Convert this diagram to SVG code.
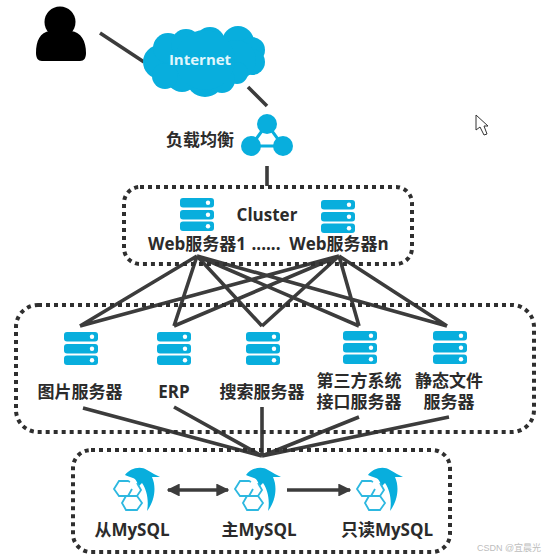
<svg xmlns="http://www.w3.org/2000/svg" xmlns:xlink="http://www.w3.org/1999/xlink" width="546" height="559" viewBox="0 0 546 559">
<style>
text{font-family:"Open Sans","Noto Sans CJK SC","Noto Sans",sans-serif;font-weight:700;font-size:17px;fill:#2b2b2b;text-anchor:middle}
.box{fill:none;stroke:#2f2f2f;stroke-width:4;stroke-dasharray:4 4}
.ln{fill:none;stroke:#3c3c3c;stroke-width:3.6}
.blue{fill:#08aedd}
</style>
<defs>
<g id="srv">
<rect class="blue" x="0" y="0" width="34" height="9.5" rx="3"/><circle cx="28" cy="4.8" r="2.2" fill="#fff"/>
<rect class="blue" x="0" y="12" width="34" height="9.5" rx="3"/><circle cx="28" cy="16.8" r="2.2" fill="#fff"/>
<rect class="blue" x="0" y="23.5" width="34" height="9.5" rx="3"/><circle cx="28" cy="28.3" r="2.2" fill="#fff"/>
</g>
<g id="dol">
<path class="blue" d="M11 7C15 1 26 -3 33 2C38 5 42 7 46 9L38 9C43 20 40 34 33 43C35 33 33 22 28 15L24 19C24 15 22 11 19 10C16 9 13 8 11 7Z"/>
<path d="M16 14L14 13H5L0 21L5 28H14L18 21M8 35L12 28H23L28 35L23 42H12L8 35ZM23 15L27 22L23 28" fill="none" stroke="#2db8e0" stroke-width="1.8"/>
</g>
<marker id="ah" viewBox="0 0 10 10" refX="9" refY="5" markerWidth="3.6" markerHeight="3.6" orient="auto-start-reverse"><path d="M0 0L10 5L0 10Z" fill="#3c3c3c"/></marker>
</defs>
<g id="connectors">
<path class="ln" d="M100 33L144 62M248 87L267 106M267 166V186"/>
<path class="ln" d="M197 256L80 326M197 256L174 326M197 256L262 326M197 256L359 326M197 256L447 326M339 256L80 326M339 256L174 326M339 256L262 326M339 256L359 326M339 256L447 326"/>
<path class="ln" d="M83 408L262 456M174 407L262 456M262 407V456M359 417L262 456M449 417L262 456"/>
<path class="ln" d="M168 490H228" marker-start="url(#ah)" marker-end="url(#ah)"/>
<path class="ln" d="M287 490H350" marker-end="url(#ah)"/>
</g>
<g id="user"><circle cx="60" cy="22" r="15.5"/><path d="M36 53C36 41 40 32 50 31C56 35 65 35 71 31C81 32 86 41 86 53C86 58 84 61 80 61H42C38 61 36 58 36 53Z"/></g>
<g id="internet"><g class="blue"><circle cx="160" cy="62" r="17"/><circle cx="168" cy="48" r="15"/><circle cx="186" cy="44" r="15"/><circle cx="210" cy="42" r="15"/><circle cx="238" cy="42" r="16"/><circle cx="252" cy="50" r="13"/><circle cx="252" cy="62" r="13"/><circle cx="236" cy="60" r="20"/><circle cx="237" cy="73" r="11"/><circle cx="222" cy="80" r="13"/><circle cx="205" cy="78" r="19"/><circle cx="182" cy="76" r="16"/><circle cx="165" cy="76" r="13"/><circle cx="205" cy="60" r="30"/></g><text x="200" y="65" style="fill:#e0f6fc;font-size:15px">Internet</text></g>
<g id="lb"><path d="M267 124L251 146H283Z" fill="none" stroke="#08aedd" stroke-width="3"/><circle class="blue" cx="267" cy="124" r="10"/><circle class="blue" cx="251" cy="146" r="10"/><circle class="blue" cx="283" cy="146" r="10"/><text x="200" y="146">负载均衡</text></g>
<g id="cluster"><rect class="box" x="124" y="187" width="288" height="77" rx="16"/><use xlink:href="#srv" x="180" y="198"/><use xlink:href="#srv" x="321" y="200"/><text x="267" y="221">Cluster</text><text x="197" y="250">Web服务器1</text><text x="266" y="250">......</text><text x="339" y="250">Web服务器n</text></g>
<g id="apps"><rect class="box" x="16" y="305" width="518" height="127" rx="22"/>
<use xlink:href="#srv" x="64" y="332"/><use xlink:href="#srv" x="157" y="332"/><use xlink:href="#srv" x="246" y="332"/><use xlink:href="#srv" x="343" y="331"/><use xlink:href="#srv" x="433" y="331"/>
<text x="80" y="398">图片服务器</text><text x="174" y="398">ERP</text><text x="262" y="398">搜索服务器</text><text x="359" y="387">第三方系统</text><text x="359" y="408">接口服务器</text><text x="449" y="387">静态文件</text><text x="449" y="408">服务器</text></g>
<g id="db"><rect class="box" x="73" y="450" width="377" height="102" rx="18"/>
<use xlink:href="#dol" x="114" y="468"/><use xlink:href="#dol" x="235" y="468"/><use xlink:href="#dol" x="357" y="468"/>
<text x="132" y="536">从MySQL</text><text x="259" y="536">主MySQL</text><text x="387" y="536">只读MySQL</text></g>
<g id="cursor"><path d="M476 115V130L480 127L484 135L487 134L484 126L488 126Z" fill="#fff" stroke="#333" stroke-width="1"/></g>
<text x="509" y="551" style="font-size:9px;font-weight:400;fill:#bdbdbd;font-family:'Liberation Sans','Noto Sans CJK SC',sans-serif">CSDN @宜晨光</text>
</svg>
